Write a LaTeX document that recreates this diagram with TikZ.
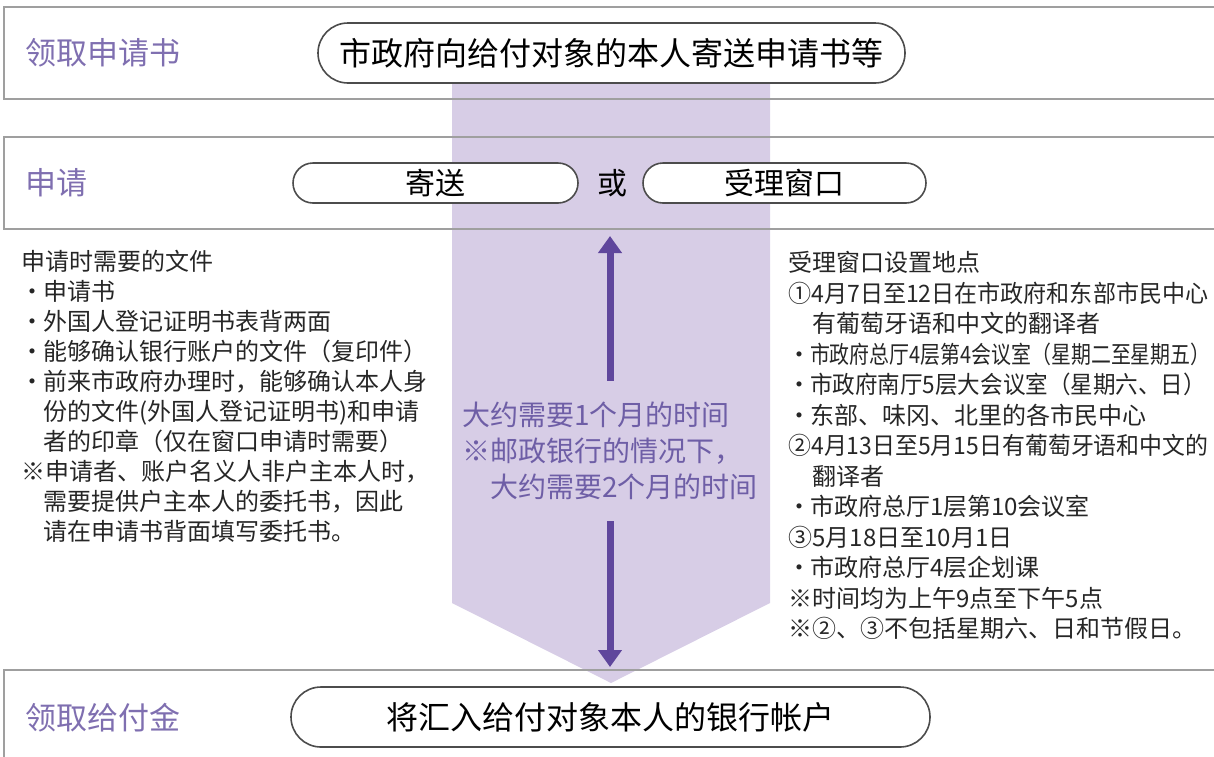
\documentclass[tikz,border=0pt]{standalone}
\usepackage{fontspec}
\usepackage{graphicx}
\setmainfont{Noto Sans CJK SC}
\usetikzlibrary{shapes.misc,arrows.meta}

\definecolor{bandlilac}{HTML}{D7CDE6}
\definecolor{stagepurple}{HTML}{7F6FB0}
\definecolor{timepurple}{HTML}{6E5EA6}
\definecolor{arrowpurple}{HTML}{5F469C}

\newcommand{\itm}{\makebox[0.9em][c]{•}}
\newcommand{\subindent}{\hspace*{0.9em}}
\newcommand{\narrow}[2]{\scalebox{#1}[1]{#2}}

\begin{document}
\begin{tikzpicture}[
        x=0.5pt, y=-0.5pt,
        stageframe/.style={
            rectangle, draw=gray!75, line width=1pt,
            minimum width=616pt, minimum height=46pt,
            anchor=west, inner sep=0pt
        },
        pill/.style={
            rounded rectangle, draw=black!70, line width=0.8pt, fill=white,
            minimum height=30pt, inner sep=0pt,
            font=\fontsize{16}{18}\selectfont
        },
        stagelabel/.style={anchor=west, inner sep=0pt, text=stagepurple, font=\fontsize{15.5}{18}\selectfont},
        notes/.style={anchor=north west, align=left, inner sep=0pt, text=black!85},
        timearrow/.style={-{Triangle[width=11.5pt,length=8.5pt]}, line width=3.5pt, draw=arrowpurple}
    ]

        \clip (0,0) rectangle (1214,756);

        % Band behind the three stages
        \fill[bandlilac] (452,53) -- (770,53) -- (770,603) -- (611,683) -- (452,603) -- cycle;

        % Stage frames
        \node[stageframe] (noticeframe) at (3,53) {};
        \node[stageframe] (applyframe) at (3,183) {};
        \node[stageframe] (payframe) at (3,716) {};

        % Stage labels
        \node[stagelabel] (noticelabel) at (25,53) {领取申请书};
        \node[stagelabel] (applylabel) at (25,183) {申请};
        \node[stagelabel] (paylabel) at (25,718) {领取给付金};

        % Pills
        \node[pill, minimum width=293.5pt] (notice) at (611.5,53) {市政府向给付对象的本人寄送申请书等};
        \node[pill, minimum width=142.5pt, minimum height=20pt, font=\fontsize{15}{18}\selectfont] (mail) at (435.5,183) {寄送};
        \node[font=\fontsize{15}{18}\selectfont, inner sep=0pt] (orword) at (612,183) {或};
        \node[pill, minimum width=141.5pt, minimum height=20pt, font=\fontsize{15}{18}\selectfont] (window) at (784.5,183) {受理窗口};
        \node[pill, minimum width=319.5pt] (pay) at (610.5,717) {将汇入给付对象本人的银行帐户};

        % Time needed
        \node[align=left, inner xsep=0pt, inner ysep=10.5pt, text=timepurple,
              font=\fontsize{14}{18}\selectfont] (timenote) at (610,451) {
            大约需要1个月的时间\\
            ※邮政银行的情况下，\\
            \hspace*{1em}大约需要2个月的时间
        };
        \draw[timearrow, shorten >=3pt] (timenote.north) -- (timenote.north |- applyframe.south);
        \draw[timearrow, shorten >=1pt] (timenote.south) -- (timenote.south |- payframe.north);

        % Documents
        \node[notes, font=\fontsize{12}{15}\selectfont] (documents) at (21,250) {
            申请时需要的文件\\
            \itm 申请书\\
            \itm 外国人登记证明书表背两面\\
            \itm 能够确认银行账户的文件（复印件）\\
            \itm 前来市政府办理时，能够确认本人身\\
            \subindent 份的文件(外国人登记证明书)和申请\\
            \subindent 者的印章（仅在窗口申请时需要）\\
            ※申请者、账户名义人非户主本人时，\\
            \subindent 需要提供户主本人的委托书，因此\\
            \subindent 请在申请书背面填写委托书。
        };

        % Window locations
        \node[notes, font=\fontsize{12}{15.25}\selectfont] (locations) at (788,251) {
            受理窗口设置地点\\
            \narrow{0.96}{①4月7日至12日在市政府和东部市民中心}\\
            \hspace*{1em}有葡萄牙语和中文的翻译者\\
            \itm \narrow{0.83}{市政府总厅4层第4会议室（星期二至星期五）}\\
            \itm \narrow{0.94}{市政府南厅5层大会议室（星期六、日）}\\
            \itm 东部、味冈、北里的各市民中心\\
            \narrow{0.955}{②4月13日至5月15日有葡萄牙语和中文的}\\
            \hspace*{1em}翻译者\\
            \itm 市政府总厅1层第10会议室\\
            ③5月18日至10月1日\\
            \itm 市政府总厅4层企划课\\
            ※时间均为上午9点至下午5点\\
            ※②、③不包括星期六、日和节假日。
        };

    \end{tikzpicture}
\end{document}
